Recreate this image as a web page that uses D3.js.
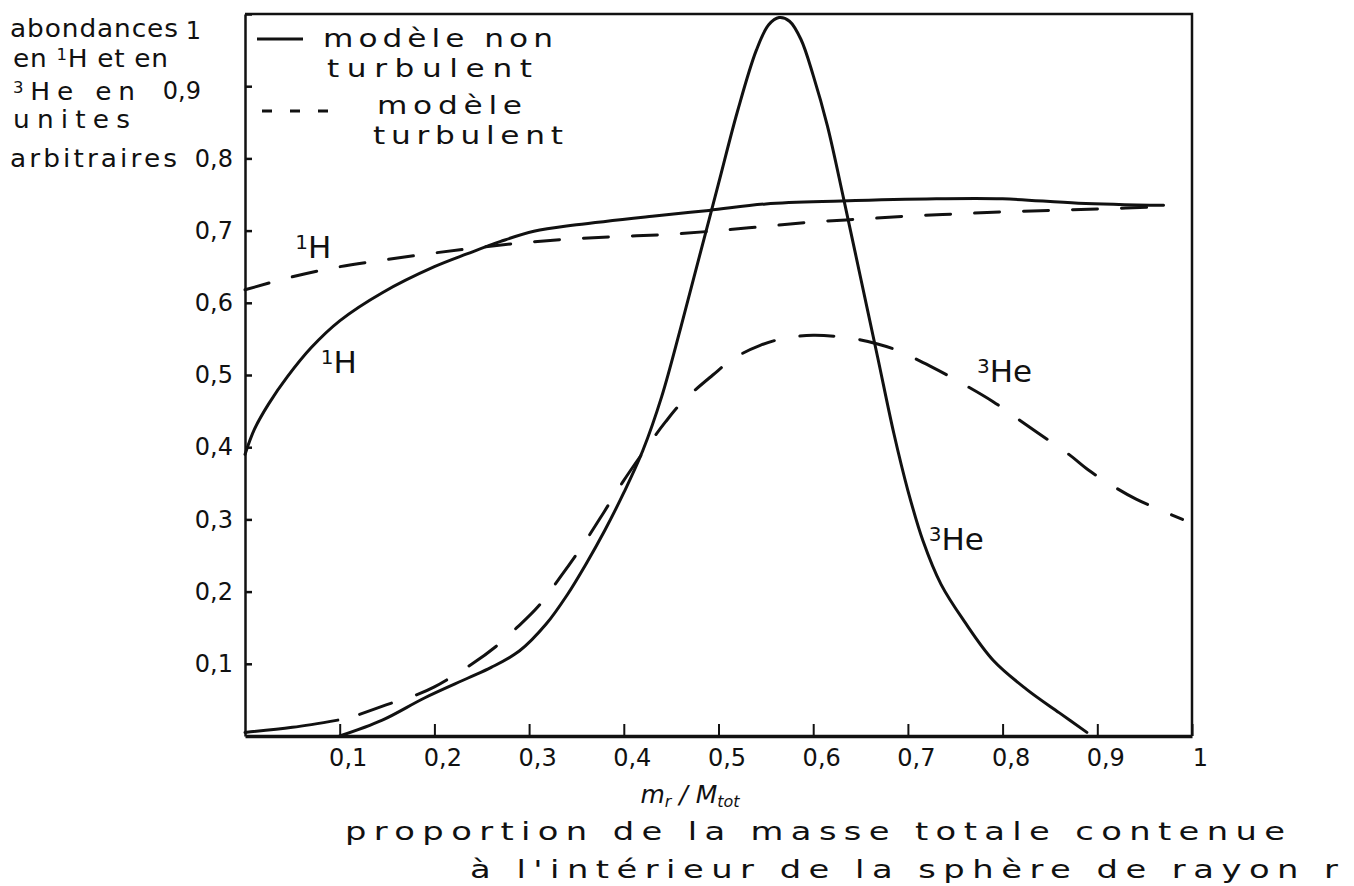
<!DOCTYPE html>
<html>
<head>
<meta charset="utf-8">
<script src="https://cdn.jsdelivr.net/npm/d3@7"></script>
<style>
  body { margin: 0; background: #fff; }
  svg { display: block; }
  text { font-family: 'DejaVu Sans', sans-serif; fill: #111; }
</style>
</head>
<body>
<div id="chart"></div>
<script>
// ---- data ----
// 1H, non turbulent model (solid)
const massFrac_H = [0, 0.01, 0.025, 0.045, 0.07, 0.1, 0.145, 0.2, 0.235, 0.27, 0.305, 0.35, 0.43, 0.49, 0.55, 0.63, 0.73, 0.8, 0.88, 0.97];
const H_nonTurb = [0.39, 0.425, 0.46, 0.498, 0.538, 0.575, 0.614, 0.65, 0.668, 0.685, 0.699, 0.708, 0.72, 0.728, 0.737, 0.741, 0.744, 0.744, 0.738, 0.735];

// 1H, turbulent model (dashed)
const massFrac_Ht = [0, 0.05, 0.1, 0.15, 0.2, 0.25, 0.3, 0.35, 0.4, 0.45, 0.5, 0.55, 0.6, 0.65, 0.7, 0.75, 0.8, 0.85, 0.9, 0.97];
const H_turb = [0.618, 0.636, 0.65, 0.66, 0.669, 0.677, 0.684, 0.689, 0.692, 0.695, 0.70, 0.706, 0.712, 0.716, 0.72, 0.723, 0.726, 0.728, 0.73, 0.733];

// 3He, non turbulent model (solid)
const massFrac_He = [0.1, 0.145, 0.19, 0.235, 0.26, 0.29, 0.318, 0.34, 0.36, 0.38, 0.40, 0.42, 0.44, 0.46, 0.48, 0.5, 0.52, 0.54, 0.553, 0.564, 0.575, 0.587, 0.6, 0.615, 0.632, 0.65, 0.668, 0.685, 0.7, 0.716, 0.735, 0.76, 0.79, 0.825, 0.86, 0.889];
const He_nonTurb = [0, 0.022, 0.053, 0.08, 0.095, 0.118, 0.155, 0.195, 0.238, 0.285, 0.337, 0.395, 0.47, 0.565, 0.665, 0.765, 0.865, 0.95, 0.985, 0.995, 0.99, 0.965, 0.915, 0.845, 0.745, 0.635, 0.525, 0.42, 0.34, 0.27, 0.21, 0.158, 0.105, 0.065, 0.032, 0.005];

// 3He, turbulent model (dashed, first stretch drawn solid)
const massFrac_Het = [0, 0.05, 0.098, 0.121, 0.149, 0.183, 0.2, 0.24, 0.265, 0.287, 0.31, 0.334, 0.357, 0.379, 0.399, 0.427, 0.444, 0.462, 0.494, 0.516, 0.544, 0.57, 0.6, 0.64, 0.668, 0.687, 0.724, 0.755, 0.79, 0.813, 0.837, 0.87, 0.891, 0.918, 0.941, 0.972, 0.99];
const He_turb = [0.005, 0.012, 0.022, 0.03, 0.043, 0.058, 0.068, 0.1, 0.124, 0.15, 0.18, 0.222, 0.265, 0.31, 0.352, 0.405, 0.435, 0.463, 0.5, 0.523, 0.541, 0.551, 0.555, 0.551, 0.543, 0.535, 0.512, 0.49, 0.463, 0.442, 0.42, 0.39, 0.368, 0.345, 0.328, 0.31, 0.30];

const xTicks = [0.1, 0.2, 0.3, 0.4, 0.5, 0.6, 0.7, 0.8, 0.9, 1];
const xTickLabels = ['0,1', '0,2', '0,3', '0,4', '0,5', '0,6', '0,7', '0,8', '0,9', '1'];
const yTicks = [0.1, 0.2, 0.3, 0.4, 0.5, 0.6, 0.7, 0.8, 0.9, 1];
const yTickLabels = ['0,1', '0,2', '0,3', '0,4', '0,5', '0,6', '0,7', '0,8', '0,9', '1'];

const yTitleLines = ['abondances', 'en |1|H et en', '|3|He en', 'unites', 'arbitraires'];
const legendLabels = [['modèle non', 'turbulent'], ['modèle', 'turbulent']];
const xTitleLines = ['proportion de la masse totale contenue', 'à l\'intérieur de la sphère de rayon r'];

// ---- chart ----
const width = 1354, height = 886;

const x = d3.scaleLinear().domain([0, 1]).range([245, 1192]);
const y = d3.scaleLinear().domain([0, 1]).range([736, 14]);

const svg = d3.select('#chart').append('svg')
  .attr('width', width)
  .attr('height', height)
  .style('background', '#fff');

// frame (top + right side)
svg.append('path')
  .attr('d', `M${x(0)},${y(1)}H${x(1)}V${y(0)}`)
  .attr('fill', 'none')
  .attr('stroke', '#111')
  .attr('stroke-width', 2.5);

// x axis, ticks pointing up into the plot
const xAxis = d3.axisBottom(x)
  .tickValues(xTicks)
  .tickFormat((d, i) => xTickLabels[i])
  .tickSizeInner(-12)
  .tickSizeOuter(0)
  .tickPadding(13);

const gx = svg.append('g')
  .attr('transform', `translate(0,${y(0)})`)
  .call(xAxis);
gx.select('.domain').attr('stroke', '#111').attr('stroke-width', 3.5);
gx.selectAll('.tick line').attr('stroke', '#111').attr('stroke-width', 2);
gx.selectAll('.tick text')
  .attr('font-size', 24)
  .attr('font-family', 'DejaVu Sans, sans-serif')
  .attr('fill', '#111')
  .attr('dx', 8);

// y axis, ticks pointing right
const yAxis = d3.axisLeft(y)
  .tickValues(yTicks)
  .tickFormat((d, i) => yTickLabels[i])
  .tickSizeInner(-7)
  .tickSizeOuter(0)
  .tickPadding(12);

const gy = svg.append('g')
  .attr('transform', `translate(${x(0)},0)`)
  .call(yAxis);
gy.select('.domain').attr('stroke', '#111').attr('stroke-width', 2.5);
gy.selectAll('.tick line').attr('stroke', '#111').attr('stroke-width', 2.5);
gy.selectAll('.tick text')
  .attr('font-size', 24)
  .attr('font-family', 'DejaVu Sans, sans-serif')
  .attr('fill', '#111')
  // the hand lettering drifts a bit for the two top labels
  .attr('dx', d => (d === 1 || d === 0.9) ? -32 : 0)
  .attr('dy', d => d === 1 ? '1.0em' : (d === 0.9 ? '0.5em' : '0.32em'));

// curves
const line = d3.line()
  .x(d => x(d[0]))
  .y(d => y(d[1]))
  .curve(d3.curveCatmullRom.alpha(0.5));

function pairs(xs, ys) {
  return xs.map((v, i) => [v, ys[i]]);
}

function drawCurve(points, dash) {
  svg.append('path')
    .datum(points)
    .attr('d', line)
    .attr('fill', 'none')
    .attr('stroke', '#111')
    .attr('stroke-width', 3)
    .attr('stroke-linecap', 'round')
    .attr('stroke-linejoin', 'round')
    .attr('stroke-dasharray', dash || null);
}

const heTurb = pairs(massFrac_Het, He_turb);

drawCurve(pairs(massFrac_H, H_nonTurb));
drawCurve(pairs(massFrac_Ht, H_turb), '25,24');
drawCurve(pairs(massFrac_He, He_nonTurb));
drawCurve(heTurb.filter(d => d[0] <= 0.1));
drawCurve(heTurb.filter(d => d[0] > 0.1), '34,26');

// text with |n| marking a superscript
function richText(sel, str, supSize) {
  str.split('|').forEach((part, i) => {
    if (!part) return;
    if (i % 2 === 1) {
      sel.append('tspan').attr('font-size', supSize).attr('baseline-shift', '45%').text(part);
    } else {
      sel.append('tspan').text(part);
    }
  });
}

// wide, loosely spaced lettering like the hand writing
function wideText(parent, str, px, py, size, len, sx) {
  const t = parent.append('text')
    .attr('transform', `translate(${px},${py}) scale(${sx},1)`)
    .attr('font-size', size)
    .attr('textLength', len / sx)
    .attr('lengthAdjust', 'spacing');
  richText(t, str, Math.round(size * 0.62));
  return t;
}

// curve labels
function curveLabel(str, px, py) {
  const t = svg.append('text')
    .attr('x', px)
    .attr('y', py)
    .attr('font-size', 31);
  richText(t, str, 20);
}
curveLabel('|1|H', x(0.053), y(0.662));
curveLabel('|1|H', x(0.08), y(0.503));
curveLabel('|3|He', x(0.773), y(0.49));
curveLabel('|3|He', x(0.722), y(0.258));

// y title, stacked lines on the left
const yTitleY = [37, 67, 100, 128, 167];
const yTitleX = [10, 13, 13, 13, 10];
const yTitleW = [168, 155, 122, 117, 167];
yTitleLines.forEach((s, i) => {
  wideText(svg, s, yTitleX[i], yTitleY[i], 24, yTitleW[i], 1.1);
});

// legend
const legend = svg.append('g');
legend.append('line')
  .attr('x1', 257).attr('x2', 303).attr('y1', 39).attr('y2', 39)
  .attr('stroke', '#111').attr('stroke-width', 3);
legend.append('line')
  .attr('x1', 262).attr('x2', 330).attr('y1', 111).attr('y2', 111)
  .attr('stroke', '#111').attr('stroke-width', 3)
  .attr('stroke-dasharray', '10,18');

const legendPos = [[[323, 47, 230], [327, 77, 205]], [[377, 114, 145], [373, 144, 190]]];
legendLabels.forEach((lines, i) => {
  lines.forEach((s, j) => {
    const p = legendPos[i][j];
    wideText(legend, s, p[0], p[1], 24, p[2], 1.3);
  });
});

// x title: m_r / M_tot and the description below
const ratio = svg.append('text')
  .attr('x', 690)
  .attr('y', 803)
  .attr('text-anchor', 'middle')
  .attr('font-size', 25)
  .attr('font-style', 'italic');
ratio.append('tspan').text('m');
ratio.append('tspan').attr('font-size', 16).attr('baseline-shift', '-25%').text('r');
ratio.append('tspan').text(' / M');
ratio.append('tspan').attr('font-size', 16).attr('baseline-shift', '-25%').text('tot');

const xTitlePos = [[345, 840, 940], [470, 878, 868]];
xTitleLines.forEach((s, i) => {
  wideText(svg, s, xTitlePos[i][0], xTitlePos[i][1], 25, xTitlePos[i][2], 1.35);
});
</script>
</body>
</html>
